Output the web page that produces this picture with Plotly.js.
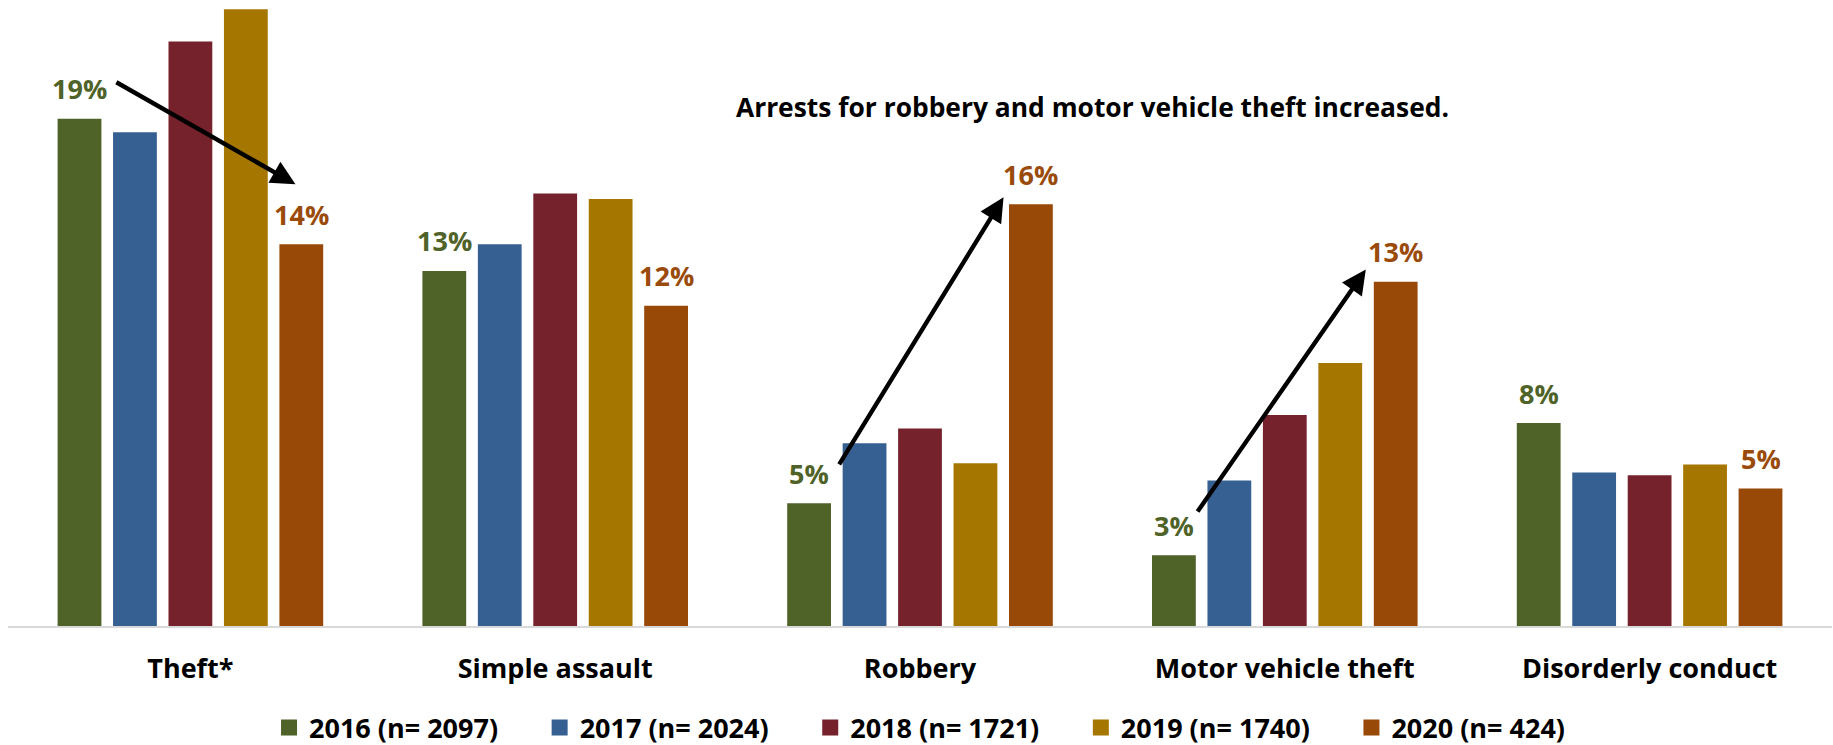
<!DOCTYPE html>
<html>
<head>
<meta charset="utf-8">
<script src="https://cdn.plot.ly/plotly-3.0.1.min.js"></script>
<style>html,body{margin:0;padding:0;background:#fff;}#chart{width:1833px;height:745px;}</style>
</head>
<body>
<div id="chart"></div>
<script>
const categories = ['Theft*', 'Simple assault', 'Robbery', 'Motor vehicle theft', 'Disorderly conduct'];
const seriesNames = ['2016 (n= 2097)', '2017 (n= 2024)', '2018 (n= 1721)', '2019 (n= 1740)', '2020 (n= 424)'];
const v2016 = [19.0, 13.3, 4.6, 2.65, 7.6];
const v2017 = [18.5, 14.3, 6.85, 5.45, 5.75];
const v2018 = [21.9, 16.2, 7.4, 7.9, 5.65];
const v2019 = [23.1, 16.0, 6.1, 9.85, 6.05];
const v2020 = [14.3, 12.0, 15.8, 12.9, 5.15];
const colors = ['#4F6228', '#376092', '#76222D', '#A67700', '#984807'];
const labelColors = ['#4F6228', '#9A4A0A'];
const subtitle = 'Arrests for robbery and motor vehicle theft increased.';
// arrows: [from category idx + offset, value] -> [to]
const arrows = [
  {x0: -0.207, y0: 20.4, x1: 0.288, y1: 16.55},
  {x0: 1.776, y0: 6.0, x1: 2.229, y1: 16.06},
  {x0: 2.758, y0: 4.23, x1: 3.222, y1: 13.35}
];

const allSeries = [v2016, v2017, v2018, v2019, v2020];
const FONT = '"Open Sans", sans-serif';
const FS = 27;
const bargap = 0.24;

const traces = allSeries.map((vals, i) => ({
  type: 'bar',
  x: categories,
  y: vals,
  name: seriesNames[i],
  marker: {color: colors[i]},
  showlegend: false,
  hoverinfo: 'skip'
}));
// legend entries with larger square symbols
seriesNames.forEach((n, i) => traces.push({
  type: 'scatter', mode: 'markers', x: [null], y: [null], name: n,
  marker: {symbol: 'square', size: 17, color: colors[i]}, showlegend: true
}));

const annotations = [];
const slot = (1 - bargap) / 5;
[[0, v2016], [4, v2020]].forEach(([si, vals], k) => {
  vals.forEach((v, ci) => {
    annotations.push({
      x: ci + (si - 2) * slot, y: v, xref: 'x', yref: 'y',
      text: '<b>' + Math.round(v) + '%</b>', showarrow: false,
      yshift: 30, yanchor: 'middle', xanchor: 'center',
      font: {family: FONT, size: FS, color: labelColors[k]}
    });
  });
});
arrows.forEach(a => annotations.push({
  x: a.x1, y: a.y1, ax: a.x0, ay: a.y0, xref: 'x', yref: 'y', axref: 'x', ayref: 'y',
  text: '', showarrow: true, arrowhead: 2, arrowsize: 1.1, arrowwidth: 4.4, arrowcolor: '#000'
}));

const layout = {
  width: 1833, height: 745,
  margin: {l: 8, r: 1, t: 0, b: 119, autoexpand: false},
  paper_bgcolor: '#fff', plot_bgcolor: '#fff',
  barmode: 'group', bargap: bargap, bargroupgap: 0.21,
  font: {family: FONT, color: '#000'},
  title: {text: '<b>' + subtitle + '</b>', x: 0.596, y: 0.855, xanchor: 'center', yanchor: 'middle',
          font: {family: FONT, size: 26.4, color: '#000'}},
  xaxis: {showline: true, linecolor: '#D9D9D9', linewidth: 2, ticks: '', showgrid: false, automargin: false,
          tickfont: {family: FONT, size: FS, color: '#000', weight: 'bold'}, ticklabelstandoff: 18},
  yaxis: {range: [0, 23.45], visible: false, showgrid: false, zeroline: false, automargin: false},
  legend: {orientation: 'h', x: 0.514, xanchor: 'center', y: -0.163, yanchor: 'middle',
           font: {family: FONT, size: FS, color: '#000', weight: 'bold'}, entrywidth: 225.6},
  annotations: annotations,
  showlegend: true
};
Plotly.newPlot('chart', traces, layout, {displayModeBar: false, staticPlot: true});
</script>
</body>
</html>
